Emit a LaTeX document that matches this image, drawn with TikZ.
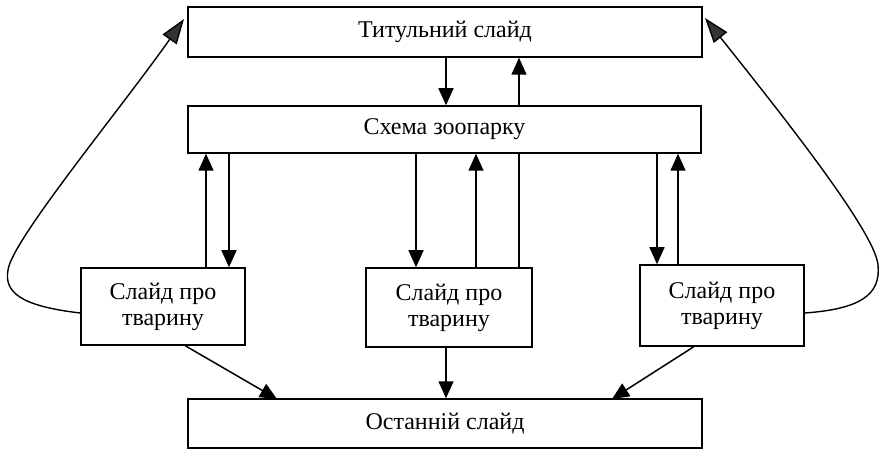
\documentclass[tikz,border=0pt]{standalone}
\usepackage{fontspec}
\setmainfont{Liberation Serif}
\usetikzlibrary{arrows.meta,backgrounds}
\begin{document}
\begin{tikzpicture}[x=1pt,y=-1pt,
  box/.style={draw,line width=1.5pt,fill=white,inner sep=0pt,align=center,
    font=\fontsize{24}{26}\selectfont},
  arr/.style={line width=1.5pt,-{Triangle[length=17pt,width=15pt]}},
  backarr/.style={line width=1.4pt,-{Triangle[length=25pt,width=17pt,fill=black!80]}}]
\useasboundingbox (0,0) rectangle (881,449);
\node[box,minimum width=514pt,minimum height=50pt] (title) at (445,32) {Титульний слайд};
\node[box,minimum width=513pt,minimum height=47pt] (schema) at (444.5,129.5) {Схема зоопарку};
\node[box,minimum width=164pt,minimum height=77pt] (left) at (163,306.5) {Слайд про\\тварину};
\node[box,minimum width=166pt,minimum height=79pt] (mid) at (449,307.5) {Слайд про\\тварину};
\node[box,minimum width=164pt,minimum height=81pt] (right) at (722,305.5) {Слайд про\\тварину};
\node[box,minimum width=514pt,minimum height=49pt] (last) at (445,423.5) {Останній слайд};
% x positions of vertical connectors
\coordinate (xa) at (446,0);
\coordinate (xb) at (519,0);
\coordinate (xc) at (206,0);
\coordinate (xd) at (229,0);
\coordinate (xe) at (416,0);
\coordinate (xf) at (476,0);
\coordinate (xg) at (657,0);
\coordinate (xh) at (678,0);
\coordinate (xi) at (446,0);
\coordinate (tl) at (184,19);
\coordinate (tr) at (705,18);
\coordinate (bl) at (277,399);
\coordinate (br) at (612,399);
\draw[arr] (title.south -| xa) -- (schema.north -| xa);
\begin{scope}[on background layer]
\draw[arr] (mid.north -| xb) -- (title.south -| xb);
\end{scope}
\draw[arr] (left.north -| xc) -- (schema.south -| xc);
\draw[arr] (schema.south -| xd) -- (left.north -| xd);
\draw[arr] (schema.south -| xe) -- (mid.north -| xe);
\draw[arr] (mid.north -| xf) -- (schema.south -| xf);
\draw[arr] (schema.south -| xg) -- (right.north -| xg);
\draw[arr] (right.north -| xh) -- (schema.south -| xh);
\draw[arr] (mid.south -| xi) -- (last.north -| xi);
\draw[arr] ([xshift=105pt]left.south west) -- (bl);
\draw[arr] ([xshift=-111pt]right.south east) -- (br);
\draw[backarr] ([yshift=-6.5pt]left.west) .. controls (20,306) and (4,292) .. (8,270)
  .. controls (12,240) and (120,110) .. (tl);
\draw[backarr] ([yshift=-7.5pt]right.east) .. controls (860,309) and (881,295) .. (878,265)
  .. controls (875,230) and (770,100) .. (tr);
\end{tikzpicture}
\end{document}
